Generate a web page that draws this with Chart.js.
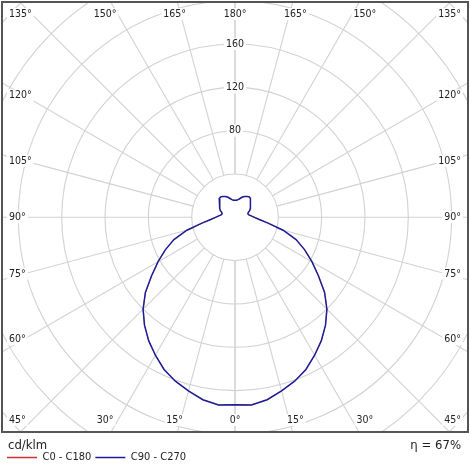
<!doctype html>
<html lang="en">
<head>
    <meta charset="utf-8">
    <title>Polar light distribution</title>
    <style>
        * {
            margin: 0;
            padding: 0;
        }

        body {
            background: #fff;
            width: 470px;
            height: 470px;
            overflow: hidden;
        }
    </style>
</head>
<body>
<canvas id="polarChart" width="470" height="470"></canvas>
<script src="https://cdn.jsdelivr.net/npm/chart.js"></script>
<script>
    // gamma angles in degrees, 0 = straight down, 180 = straight up
    const gammaAngles = [0, 5, 10, 15, 20, 25, 30, 35, 40, 45, 50, 55, 60, 65, 70, 75, 80, 85, 90,
        95, 100, 105, 110, 115, 120, 125, 130, 135, 140, 145, 150, 155, 160, 165, 170, 175, 180];

    // intensity in cd/klm
    const c0c180 = [173, 174, 171, 166, 161, 155, 147, 139, 130, 120, 108, 94, 82, 71, 60, 46, 31, 22.5, 18,
        15, 13, 12.3, 13, 15, 16.3, 17.2, 18.4, 20.2, 22.6, 23.1, 22.2, 21.2, 19.9, 18, 16.6, 15.9, 15.7];
    const c90c270 = [173, 174, 171, 166, 161, 155, 147, 139, 130, 120, 108, 94, 82, 71, 60, 46, 31, 22.5, 18,
        15, 13, 12.3, 13, 15, 16.3, 17.2, 18.4, 20.2, 22.6, 23.1, 22.2, 21.2, 19.9, 18, 16.6, 15.9, 15.7];

    // grid
    const ringValues = [40, 80, 120, 160, 200, 240, 280, 320];
    const ringLabels = [80, 120, 160];
    const spokeAngles = [0, 15, 30, 45, 60, 75, 90, 105, 120, 135, 150, 165, 180];

    const seriesNames = ['C0 - C180', 'C90 - C270'];
    const unitText = 'cd/klm';
    const efficiencyText = 'η = 67%';

    const FONT = "'DejaVu Sans Condensed', 'DejaVu Sans', sans-serif";
    Chart.defaults.font.family = FONT;
    Chart.defaults.color = '#222';

    // right half goes 0 -> 180, left half comes back 180 -> 0
    function polarLoop(rightVals, leftVals) {
        const pts = [];
        gammaAngles.forEach((g, i) => {
            const a = g * Math.PI / 180;
            pts.push({x: rightVals[i] * Math.sin(a), y: -rightVals[i] * Math.cos(a)});
        });
        for (let i = gammaAngles.length - 1; i >= 0; i--) {
            const a = gammaAngles[i] * Math.PI / 180;
            pts.push({x: -leftVals[i] * Math.sin(a), y: -leftVals[i] * Math.cos(a)});
        }
        return pts;
    }

    const FRAME_BOTTOM_VALUE = -197.3;

    function frameOf(chart) {
        const {chartArea, scales: {y}} = chart;
        return {
            left: chartArea.left,
            top: chartArea.top,
            right: chartArea.right,
            bottom: y.getPixelForValue(FRAME_BOTTOM_VALUE)
        };
    }

    function labelWithBox(ctx, text, x, y, align) {
        const w = ctx.measureText(text).width;
        let left = x - w / 2;
        if (align === 'left') left = x;
        if (align === 'right') left = x - w;
        ctx.fillStyle = '#fff';
        ctx.fillRect(left - 2, y - 6, w + 4, 12);
        ctx.fillStyle = '#222';
        ctx.textAlign = align;
        ctx.fillText(text, x, y);
    }

    // rings, spokes and their labels
    const polarGrid = {
        id: 'polarGrid',
        beforeDatasetsDraw(chart) {
            const {ctx, scales: {x, y}} = chart;
            const cx = x.getPixelForValue(0);
            const cy = y.getPixelForValue(0);
            const unit = x.getPixelForValue(1) - cx;
            const f = frameOf(chart);
            ctx.save();
            ctx.beginPath();
            ctx.rect(f.left, f.top, f.right - f.left, f.bottom - f.top);
            ctx.clip();

            ctx.strokeStyle = '#d2d2d2';
            ctx.lineWidth = 1.1;
            ringValues.forEach(v => {
                ctx.beginPath();
                ctx.arc(cx, cy, v * unit, 0, Math.PI * 2);
                ctx.stroke();
            });
            const r0 = ringValues[0] * unit;
            const r1 = 500;
            spokeAngles.forEach(g => {
                [1, -1].forEach(side => {
                    const a = g * Math.PI / 180;
                    const dx = side * Math.sin(a);
                    const dy = Math.cos(a);
                    ctx.beginPath();
                    ctx.moveTo(cx + dx * r0, cy + dy * r0);
                    ctx.lineTo(cx + dx * r1, cy + dy * r1);
                    ctx.stroke();
                });
            });

            ctx.font = '10.5px ' + FONT;
            ctx.textBaseline = 'middle';
            ringLabels.forEach(v => {
                labelWithBox(ctx, String(v), cx, cy - v * unit, 'center');
            });

            // angle labels around the frame
            spokeAngles.forEach(g => {
                const sides = (g === 0 || g === 180) ? [1] : [1, -1];
                sides.forEach(side => {
                    const a = g * Math.PI / 180;
                    const text = g + '°';
                    if (g < 45) {
                        labelWithBox(ctx, text, cx + side * 225 * Math.tan(a), f.bottom - 11, 'center');
                    } else if (g > 135) {
                        labelWithBox(ctx, text, cx + side * 225 * Math.tan(Math.PI - a), f.top + 11, 'center');
                    } else {
                        let ly = cy + 211 / Math.tan(a);
                        if (g === 45) ly = f.bottom - 11;
                        if (g === 135) ly = f.top + 11;
                        if (side < 0) labelWithBox(ctx, text, f.left + 6, ly, 'left');
                        else labelWithBox(ctx, text, f.right - 6, ly, 'right');
                    }
                });
            });
            ctx.restore();
        },
        afterDraw(chart) {
            const {ctx} = chart;
            const f = frameOf(chart);
            ctx.save();
            ctx.strokeStyle = '#555';
            ctx.lineWidth = 2;
            ctx.strokeRect(f.left - 1, f.top - 1, f.right - f.left + 2, f.bottom - f.top + 2);

            ctx.font = '13px ' + FONT;
            ctx.fillStyle = '#222';
            ctx.textBaseline = 'middle';
            ctx.textAlign = 'left';
            ctx.fillText(unitText, f.left + 5, f.bottom + 15);
            ctx.textAlign = 'right';
            ctx.fillText(efficiencyText, f.right - 6, f.bottom + 15);
            ctx.restore();
        }
    };

    const data = {
        datasets: [{
            label: seriesNames[0],
            data: polarLoop(c0c180, c0c180),
            borderColor: '#c83232',
            backgroundColor: '#c83232',
            borderWidth: 0.6,
            showLine: true,
            pointRadius: 0,
            order: 2
        }, {
            label: seriesNames[1],
            data: polarLoop(c90c270, c90c270),
            borderColor: '#1c1c96',
            backgroundColor: '#1c1c96',
            borderWidth: 1.5,
            showLine: true,
            pointRadius: 0,
            order: 1
        }]
    };

    const config = {
        type: 'scatter',
        data,
        options: {
            responsive: false,
            animation: false,
            layout: {
                padding: {left: 3, top: 3, right: 3, bottom: -3}
            },
            scales: {
                x: {type: 'linear', min: -214.2, max: 214.2, display: false},
                y: {type: 'linear', min: -213.0, max: 197.9, display: false}
            },
            plugins: {
                tooltip: {enabled: false},
                legend: {
                    position: 'bottom',
                    align: 'start',
                    labels: {
                        boxWidth: 30,
                        boxHeight: 0,
                        padding: 4,
                        font: {size: 11},
                        sort: (a, b) => a.datasetIndex - b.datasetIndex,
                        generateLabels(chart) {
                            const items = Chart.defaults.plugins.legend.labels.generateLabels(chart);
                            items.forEach(item => { item.lineWidth = 1.5; });
                            return items;
                        }
                    }
                }
            }
        },
        plugins: [polarGrid]
    };

    const polarChart = new Chart(document.getElementById('polarChart'), config);
</script>
</body>
</html>
